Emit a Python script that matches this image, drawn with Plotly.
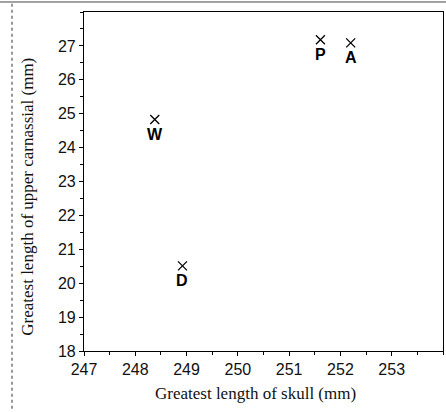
import plotly.graph_objects as go

labels = ["W", "D", "P", "A"]
skull_length = [248.38, 248.92, 251.61, 252.2]
carnassial_length = [24.83, 20.51, 27.18, 27.09]

x_ticks = [247, 248, 249, 250, 251, 252, 253]
y_ticks = [18, 19, 20, 21, 22, 23, 24, 25, 26, 27]

TICK_FONT = "Liberation Sans, Arial, sans-serif"
SERIF = "Liberation Serif, Times New Roman, serif"

fig = go.Figure()
fig.add_trace(go.Scatter(
    x=skull_length, y=carnassial_length,
    mode="markers",
    marker=dict(symbol="x-thin", size=9, line=dict(color="black", width=1.3), color="black"),
    showlegend=False,
    cliponaxis=False,
))
for lab, xv, yv in zip(labels, skull_length, carnassial_length):
    fig.add_annotation(x=xv, y=yv, text="<b>%s</b>" % lab, showarrow=False,
                       xanchor="center", yanchor="middle", yshift=-15,
                       font=dict(family="Liberation Sans, Arial, sans-serif", size=16, color="black"))

axis_common = dict(
    showgrid=False, zeroline=False, showline=True, linecolor="black", linewidth=1.2,
    ticks="outside", ticklen=4, tickcolor="black", tickwidth=1,
    tickfont=dict(family=TICK_FONT, size=16, color="#111"),
    mirror=True, automargin=False,
    minor=dict(ticks="outside", ticklen=3, tickcolor="black", tickwidth=1, dtick=0.5, showgrid=False),
)

fig.update_xaxes(range=[247, 254], tickvals=x_ticks, ticktext=[str(v) for v in x_ticks], **axis_common)
fig.update_yaxes(range=[18, 28], tickvals=y_ticks, ticktext=[str(v) for v in y_ticks], **axis_common)

fig.add_annotation(text="Greatest length of skull (mm)", xref="paper", yref="paper",
                   x=0.479, y=-0.125, xanchor="center", yanchor="middle", showarrow=False,
                   font=dict(family=SERIF, size=17, color="#111"))
fig.add_annotation(text="Greatest length of upper carnassial (mm)", xref="paper", yref="paper",
                   x=-0.156, y=0.455, xanchor="center", yanchor="middle", showarrow=False, textangle=-90,
                   font=dict(family=SERIF, size=17, color="#111"))

# scan border lines
fig.add_shape(type="line", xref="paper", yref="paper", x0=-0.2006, x1=-0.2006, y0=-0.17, y1=1.03,
              line=dict(color="#555", width=1.2, dash="dot"))
fig.add_shape(type="line", xref="paper", yref="paper", x0=-0.24, x1=1.01, y0=1.0295, y1=1.0295,
              line=dict(color="#444", width=1))

fig.update_layout(
    width=446, height=412,
    margin=dict(l=84, r=3, t=12, b=61),
    plot_bgcolor="white", paper_bgcolor="white",
)

fig.write_html("out.html", config={"displayModeBar": False},
               post_script="document.body.style.margin='0';")
